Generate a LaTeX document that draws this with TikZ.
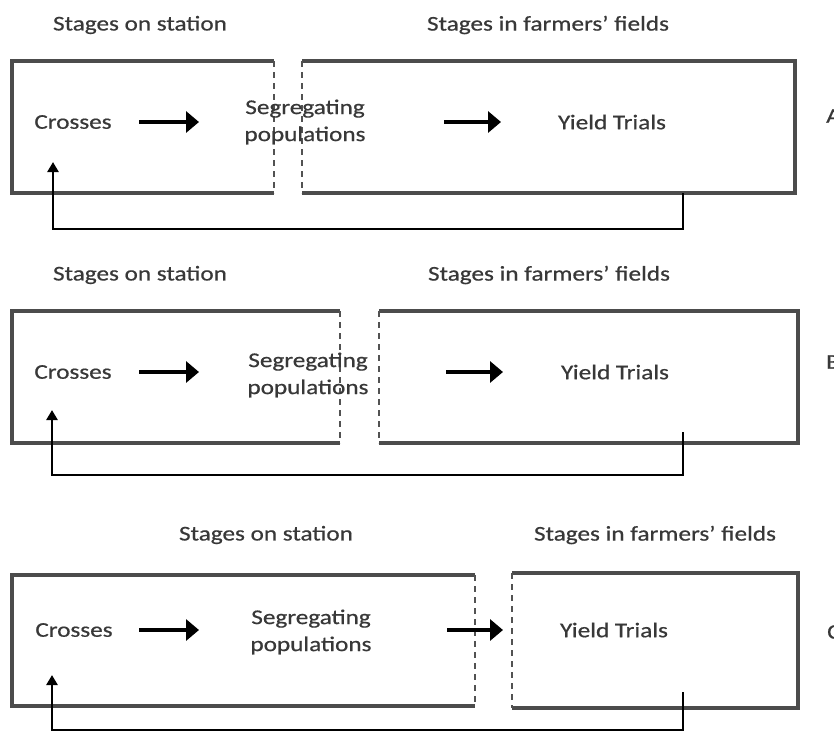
\documentclass[tikz,border=0pt]{standalone}
\usepackage{fontspec}
\setmainfont[FakeStretch=1.2,FakeBold=0.6]{Carlito}
\usetikzlibrary{arrows.meta}
\begin{document}
\begin{tikzpicture}[x=1pt,y=-1pt,
  boxline/.style={draw=black!70, line width=3.2pt, line join=miter},
  dashline/.style={draw=black!68, line width=2.8pt, dash pattern=on 6pt off 5pt},
  txt/.style={font=\fontsize{21}{27}\selectfont, text=black!78, inner sep=0pt},
  sidelbl/.style={txt, anchor=west},
  rowarrow/.style={draw=black, line width=4.8pt, -{Triangle[length=13pt,width=21pt]}},
  fbline/.style={draw=black, line width=2.8pt, -{Triangle[length=10pt,width=11pt]}},
]
\useasboundingbox (0,0) rectangle (834,737);

% ---------------- Panel A ----------------
\draw[boxline] (274,61) -- (12,61) -- (12,193) -- (274,193);
\draw[dashline] (274,61) -- (274,193);
\draw[boxline] (302,61) -- (795,61) -- (795,193) -- (302,193);
\draw[dashline] (302,61) -- (302,193);
\node[txt] (st1) at (140,25) {Stages on station};
\node[txt] (sf1) at (548,25) {Stages in farmers’ fields};
\node[txt] (cr1) at (73,122) {Crosses};
\node[txt, align=center] (sg1) at (305,122) {Segregating\\populations};
\node[txt] (yt1) at (612,122) {Yield Trials};
\node[sidelbl] (lA) at (826,116) {A};
\coordinate (r1a) at (139,122); \coordinate (r1b) at (199,122);
\coordinate (r2a) at (444,122); \coordinate (r2b) at (501,122);
\draw[rowarrow] (r1a) -- (r1b);
\draw[rowarrow] (r2a) -- (r2b);
\coordinate (f1s) at (683,193); \coordinate (f1c) at (683,229); \coordinate (f1t) at (53,162);
\draw[fbline] (f1s) -- (f1c) -| (f1t);

% ---------------- Panel B ----------------
\draw[boxline] (340,311) -- (12,311) -- (12,443) -- (340,443);
\draw[dashline] (340,311) -- (340,443);
\draw[boxline] (379,311) -- (798,311) -- (798,443) -- (379,443);
\draw[dashline] (379,311) -- (379,443);
\node[txt] (st2) at (140,275) {Stages on station};
\node[txt] (sf2) at (549,275) {Stages in farmers’ fields};
\node[txt] (cr2) at (73,372) {Crosses};
\node[txt, align=center] (sg2) at (308,375) {Segregating\\populations};
\node[txt] (yt2) at (615,372) {Yield Trials};
\node[sidelbl] (lB) at (826,362) {B};
\coordinate (r3a) at (139,372); \coordinate (r3b) at (199,372);
\coordinate (r4a) at (446,372); \coordinate (r4b) at (503,372);
\draw[rowarrow] (r3a) -- (r3b);
\draw[rowarrow] (r4a) -- (r4b);
\coordinate (f2s) at (683,432); \coordinate (f2c) at (683,475); \coordinate (f2t) at (52,410);
\draw[fbline] (f2s) -- (f2c) -| (f2t);

% ---------------- Panel C ----------------
\draw[boxline] (475,575) -- (12,575) -- (12,706) -- (475,706);
\draw[dashline] (475,575) -- (475,706);
\draw[boxline] (512,573) -- (798,573) -- (798,708) -- (512,708);
\draw[dashline] (512,573) -- (512,708);
\node[txt] (st3) at (266,535) {Stages on station};
\node[txt] (sf3) at (655,535) {Stages in farmers’ fields};
\node[txt] (cr3) at (74,630) {Crosses};
\node[txt, align=center] (sg3) at (311,632) {Segregating\\populations};
\node[txt] (yt3) at (614,630) {Yield Trials};
\node[sidelbl] (lC) at (827,632) {C};
\coordinate (r5a) at (139,630); \coordinate (r5b) at (199,630);
\coordinate (r6a) at (447,630); \coordinate (r6b) at (503,630);
\draw[rowarrow] (r5a) -- (r5b);
\draw[rowarrow] (r6a) -- (r6b);
\coordinate (f3s) at (683,692); \coordinate (f3c) at (683,730); \coordinate (f3t) at (52,675);
\draw[fbline] (f3s) -- (f3c) -| (f3t);
\end{tikzpicture}
\end{document}
